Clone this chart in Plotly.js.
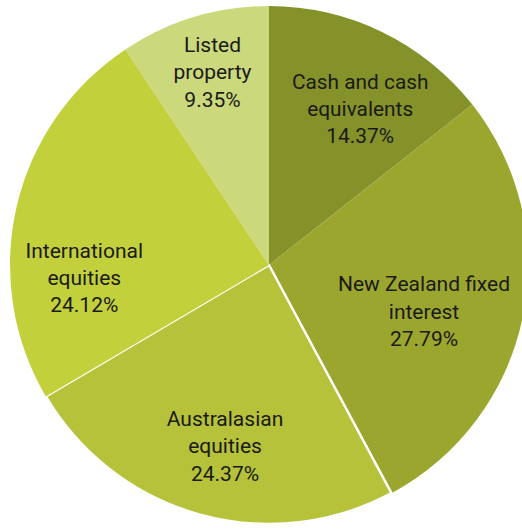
<!DOCTYPE html>
<html>
<head>
<meta charset="utf-8">
<script src="https://cdn.plot.ly/plotly-3.0.1.min.js"></script>
<style>
html, body { margin: 0; padding: 0; overflow: hidden; background: #fff; width: 522px; height: 530px; }
#chart { width: 528px; height: 530px; }
</style>
</head>
<body>
<div id="chart"></div>
<script>
// Data
const labels = ["Cash and cash<br>equivalents", "New Zealand fixed<br>interest", "Australasian<br>equities", "International<br>equities", "Listed<br>property"];
const values = [14.37, 27.79, 24.37, 24.12, 9.35];

// Styles
const colors = ["#85922a", "#9ba62f", "#b5c23a", "#c2d03c", "#cbd87b"];
const lineWidths = [0, 0, 2.5, 0, 0];
// per-label placement tweaks (angle offset in degrees, ring hole that sets label radius)
const labelRotation = [4.5, 5, -2, -17, 0.5];
const labelHole = [0, 0.25, 0.44, 0.43, 0];

const traces = [{
  type: "pie",
  labels: labels,
  values: values,
  sort: false,
  direction: "clockwise",
  rotation: 0,
  marker: { colors: colors, line: { color: "#ffffff", width: lineWidths } },
  textinfo: "none",
  hoverinfo: "none",
  showlegend: false
}];

const clear = values.map(() => "rgba(0,0,0,0)");
labels.forEach((_, i) => {
  traces.push({
    type: "pie",
    labels: labels,
    values: values,
    sort: false,
    direction: "clockwise",
    rotation: labelRotation[i],
    hole: labelHole[i],
    marker: { colors: clear, line: { width: 0 } },
    texttemplate: "%{label}<br>%{percent:.2%}",
    textposition: values.map((_, j) => (j === i ? "inside" : "none")),
    insidetextorientation: "horizontal",
    insidetextfont: { family: "Roboto, sans-serif", size: 21, color: "#1a1a1a" },
    hoverinfo: "none",
    showlegend: false
  });
});

const layout = {
  width: 528,
  height: 530,
  margin: { l: 10, r: 0, t: 6, b: 6, pad: 0 },
  paper_bgcolor: "#ffffff",
  showlegend: false
};

Plotly.newPlot("chart", traces, layout, { displayModeBar: false, staticPlot: true });
</script>
</body>
</html>
